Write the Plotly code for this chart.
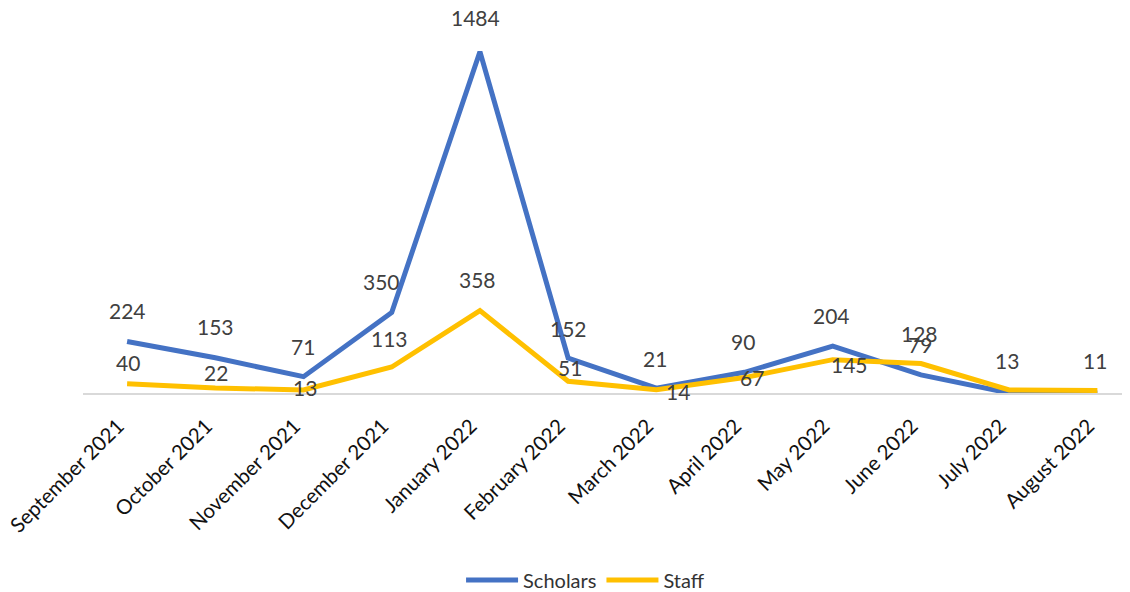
import plotly.graph_objects as go

months = ["September 2021", "October 2021", "November 2021", "December 2021",
          "January 2022", "February 2022", "March 2022", "April 2022",
          "May 2022", "June 2022", "July 2022", "August 2022"]
scholars = [224, 153, 71, 350, 1484, 152, 21, 90, 204, 79, 0, 0]
staff = [40, 22, 13, 113, 358, 51, 14, 67, 145, 128, 13, 11]
scholars_labels = ["224", "153", "71", "350", "1484", "152", "21", "90", "204", "79", "", ""]
staff_labels = ["40", "22", "13", "113", "358", "51", "14", "67", "145", "128", "13", "11"]

# label offsets (pixels) – styling only
sch_dx = [0, 0, -1, -10, -4, 0, -1, -2, -1, -1, 0, 0]
sch_dy = [31, 31, 30, 31, 34, 30, 30, 31, 31, 30, 0, 0]
stf_dx = [1, 1, 1, -2, -2, 2, 22, 7, 17, -1, -2, -2]
stf_dy = [21, 15, 3, 29, 31, 14, -2, 0, -5, 30, 30, 30]

BLUE = "#4472C4"
GOLD = "#FFC000"
FONT = "Lato"

fig = go.Figure()
fig.add_trace(go.Scatter(x=months, y=scholars, mode="lines", name="Scholars",
                         line=dict(color=BLUE, width=5), cliponaxis=False))
fig.add_trace(go.Scatter(x=months, y=staff, mode="lines", name="Staff",
                         line=dict(color=GOLD, width=5), cliponaxis=False))

for i, m in enumerate(months):
    if scholars_labels[i]:
        fig.add_annotation(x=m, y=scholars[i], text=scholars_labels[i], showarrow=False,
                           xshift=sch_dx[i], yshift=sch_dy[i],
                           font=dict(family=FONT, size=21, color="#404040"))
    if staff_labels[i]:
        fig.add_annotation(x=m, y=staff[i], text=staff_labels[i], showarrow=False,
                           xshift=stf_dx[i], yshift=stf_dy[i],
                           font=dict(family=FONT, size=21, color="#404040"))

# the page body adds an 8px offset, so the figure is sized to fit the window
fig.update_layout(
    width=1122, height=584,
    margin=dict(l=75, r=0, t=17, b=199, autoexpand=False),
    paper_bgcolor="white", plot_bgcolor="white",
    font=dict(family=FONT, size=20, color="#222222"),
    showlegend=True,
    legend=dict(orientation="h", x=0.48, xanchor="center", y=-0.508, yanchor="middle",
                font=dict(family=FONT, size=20, color="#333333"),
                itemwidth=52),
    xaxis=dict(type="category", range=[-0.5, 11.37], showgrid=False, automargin=False,
               showline=True, linecolor="#d9d9d9", linewidth=2,
               ticks="", tickangle=-45, ticklabelstandoff=11, ticklabelshift=-9,
               tickfont=dict(family=FONT, size=20.5, color="#111111")),
    yaxis=dict(range=[0, 1600], showgrid=False, zeroline=False, automargin=False,
               showticklabels=False, ticks=""),
)

fig.write_html("out.html")
